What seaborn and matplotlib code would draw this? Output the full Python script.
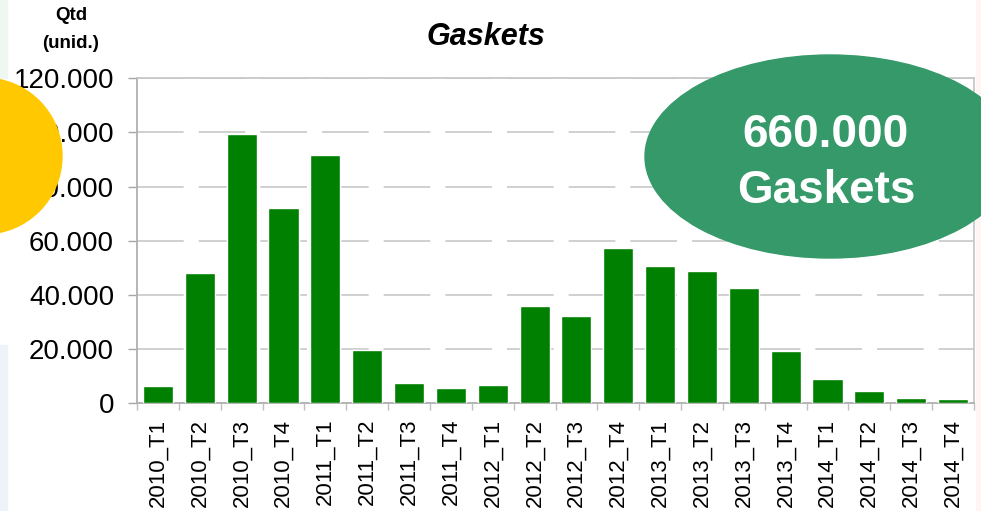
import matplotlib
matplotlib.use("Agg")
import matplotlib.pyplot as plt
import seaborn as sns
import pandas as pd
from matplotlib.patches import Ellipse, Rectangle
from matplotlib.ticker import FuncFormatter, FixedLocator

# --- data ---
quarters = ['2010_T1', '2010_T2', '2010_T3', '2010_T4',
            '2011_T1', '2011_T2', '2011_T3', '2011_T4',
            '2012_T1', '2012_T2', '2012_T3', '2012_T4',
            '2013_T1', '2013_T2', '2013_T3', '2013_T4',
            '2014_T1', '2014_T2', '2014_T3', '2014_T4']
quantities = [6500, 48100, 99400, 72100,
              91700, 19800, 7600, 5800,
              6900, 35900, 32300, 57400,
              50800, 48900, 42600, 19400,
              9100, 4400, 1900, 1500]
y_ticks = [0, 20000, 40000, 60000, 80000, 100000, 120000]
total_label = '660.000'
total_name = 'Gaskets'

sns.set_style('white')
plt.rcParams['font.family'] = ['Liberation Sans', 'DejaVu Sans']
plt.rcParams['text.color'] = 'black'
plt.rcParams['lines.scale_dashes'] = False

W, H = 981, 511
fig = plt.figure(figsize=(W / 100, H / 100), dpi=100)
ax = fig.add_axes([137 / W, 1 - 403.3 / H, (974 - 137) / W, (403.3 - 78.3) / H])

df = pd.DataFrame({'quarter': quarters, 'qtd': quantities})
sns.barplot(data=df, x='quarter', y='qtd', color='#008000', saturation=1,
            width=0.72, ax=ax, zorder=3)

ax.set_xlim(-0.5, len(quarters) - 0.5)
ax.set_ylim(0, 120000)
ax.set_xlabel('')
ax.set_ylabel('')

# y axis
ax.yaxis.set_major_locator(FixedLocator(y_ticks))
ax.yaxis.set_major_formatter(FuncFormatter(lambda v, p: f'{int(v):,}'.replace(',', '.')))
ax.tick_params(axis='y', which='major', length=6.5, width=1, color='#A6A6A6',
               labelsize=20, pad=10, labelcolor='black', left=True)

# x axis: labels at categories, small ticks between categories
ax.tick_params(axis='x', which='major', length=0, labelsize=16, pad=11,
               labelrotation=90, labelcolor='black')
ax.set_xticks([i - 0.5 for i in range(len(quarters) + 1)], minor=True)
ax.tick_params(axis='x', which='minor', length=5, width=1, color='#BFBFBF', bottom=True)

# dashed horizontal grid
ax.yaxis.grid(True, color='#C8C8C8', linewidth=1.2, linestyle=(0, (33.6, 10.8)), zorder=0)
ax.set_axisbelow(True)

for side in ['top', 'right']:
    ax.spines[side].set_color('#C4C4C4')
    ax.spines[side].set_linewidth(1.2)
for side in ['left', 'bottom']:
    ax.spines[side].set_color('#B0B0B0')
    ax.spines[side].set_linewidth(1.3)

# title and unit label
fig.text(485.5 / W, 1 - 45 / H, 'Gaskets', ha='center', va='baseline',
         fontsize=22, fontweight='bold', fontstyle='italic', color='black')
fig.text(71 / W, 1 - 15 / H, 'Qtd', ha='center', va='center',
         fontsize=13.5, fontweight='bold', color='black')
fig.text(71 / W, 1 - 43 / H, '(unid.)', ha='center', va='center',
         fontsize=13.5, fontweight='bold', color='black')

# faint slide background strips
fig.add_artist(Rectangle((0, 1 - 78 / H), 7 / W, 78 / H, transform=fig.transFigure,
                         color='#EEF8F1', zorder=0))
fig.add_artist(Rectangle((0, 0), 7 / W, (511 - 345) / H, transform=fig.transFigure,
                         color='#EEF3FA', zorder=0))
fig.add_artist(Rectangle((976 / W, 0), 5 / W, 1, transform=fig.transFigure,
                         color='#FFF5F5', zorder=0))

# decorative shapes
fig.add_artist(Ellipse((-16 / W, 1 - 156 / H), 156 / W, 156 / H,
                       transform=fig.transFigure, color='#FFC800', zorder=10))
fig.add_artist(Ellipse((830 / W, 1 - 156.5 / H), 370 / W, 203 / H,
                       transform=fig.transFigure, color='#35996A', zorder=10))
fig.text(826 / W, 1 - 147 / H, total_label, ha='center', va='baseline',
         fontsize=33, fontweight='bold', color='white', zorder=11)
fig.text(826 / W, 1 - 203 / H, total_name, ha='center', va='baseline',
         fontsize=33, fontweight='bold', color='white', zorder=11)

fig.savefig('out.png', dpi=100)
